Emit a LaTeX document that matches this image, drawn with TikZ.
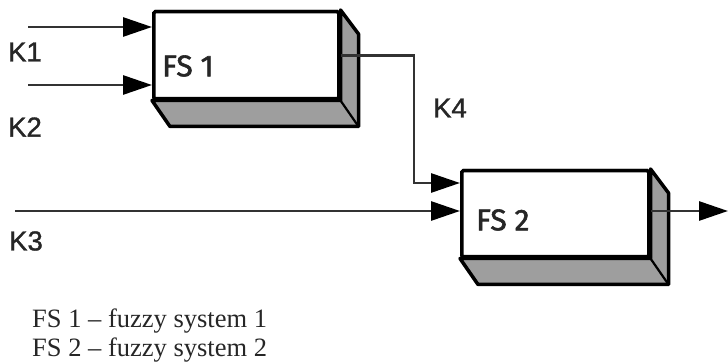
\documentclass[tikz,border=0pt]{standalone}
\usepackage{fontspec}
\setmainfont{Liberation Serif}
\newfontfamily\labelfont{Liberation Sans}[FakeBold=1.2]
\newfontfamily\boxfont{Fira Sans}[FakeBold=1.8]
\usetikzlibrary{arrows.meta,calc}

\definecolor{sidegray}{RGB}{158,158,158}
\definecolor{linegray}{RGB}{50,50,50}

\tikzset{
  x=1pt, y=-1pt,
  front/.style={draw=black, line width=3.5pt, fill=white, rounded corners=1.5pt,
    inner sep=0pt, anchor=north west},
  depth/.style={draw=black, line width=3.5pt, fill=sidegray, line join=round},
  flow/.style={draw=linegray, line width=2.8pt,
    -{Triangle[length=29pt,width=19pt,color=black]}},
  klabel/.style={font=\labelfont\fontsize{27.5}{30}\selectfont, text=black!85, inner sep=0pt},
  boxtext/.style={font=\boxfont\fontsize{30}{32}\selectfont, text=black!85, inner sep=0pt, anchor=west},
  legend/.style={font=\fontsize{26.5}{30}\selectfont, text=black!85, inner sep=0pt, anchor=base west}
}

\newcommand{\extrude}[1]{%
  % bottom and right faces of a block, offset down-right
  \path[depth] (#1.south west) -- ++(18,26) -- ($(#1.south east)+(18,26)$)
     -- ($(#1.north east)+(18,24)$) -- (#1.north east) -- (#1.south east) -- cycle;
  \draw[black, line width=2.2pt] (#1.south east) -- ++(18,26);
}

\begin{document}
\begin{tikzpicture}
\useasboundingbox (0,0) rectangle (728,363);

% fuzzy system blocks
\node[front, minimum width=185pt, minimum height=87pt] (fs1) at (152,10) {};
\node[front, minimum width=187pt, minimum height=86pt] (fs2) at (460,169) {};
\extrude{fs1}
\extrude{fs2}
\node[front, minimum width=185pt, minimum height=87pt] at (152,10) {};
\node[front, minimum width=187pt, minimum height=86pt] at (460,169) {};

\node[boxtext] (fs1t) at (162,66) {FS 1};
\node[boxtext] (fs2t) at (476,220) {FS 2};

% inputs and connections
\coordinate (k1) at (28,27);
\coordinate (k2) at (28,85);
\coordinate (k3) at (15,211);
\coordinate (k4bend) at (414,183);
\coordinate (out) at (728,211);

\draw[flow] (k1) -- (k1 -| fs1.west);
\draw[flow] (k2) -- (k2 -| fs1.west);
\draw[flow] (fs1.east) -| (k4bend) -- (k4bend -| fs2.west);
\draw[flow] (k3) -- (k3 -| fs2.west);
\draw[flow] (fs2.east |- out) -- (out);

% signal labels
\node[klabel] (lk1) at (25,52) {K1};
\node[klabel] (lk2) at (25,127) {K2};
\node[klabel] (lk3) at (26,241) {K3};
\node[klabel] (lk4) at (450,108) {K4};

% legend
\node[legend] (leg1) at (32,327) {FS 1 – fuzzy system 1};
\node[legend] (leg2) at (32,356) {FS 2 – fuzzy system 2};
\end{tikzpicture}
\end{document}
